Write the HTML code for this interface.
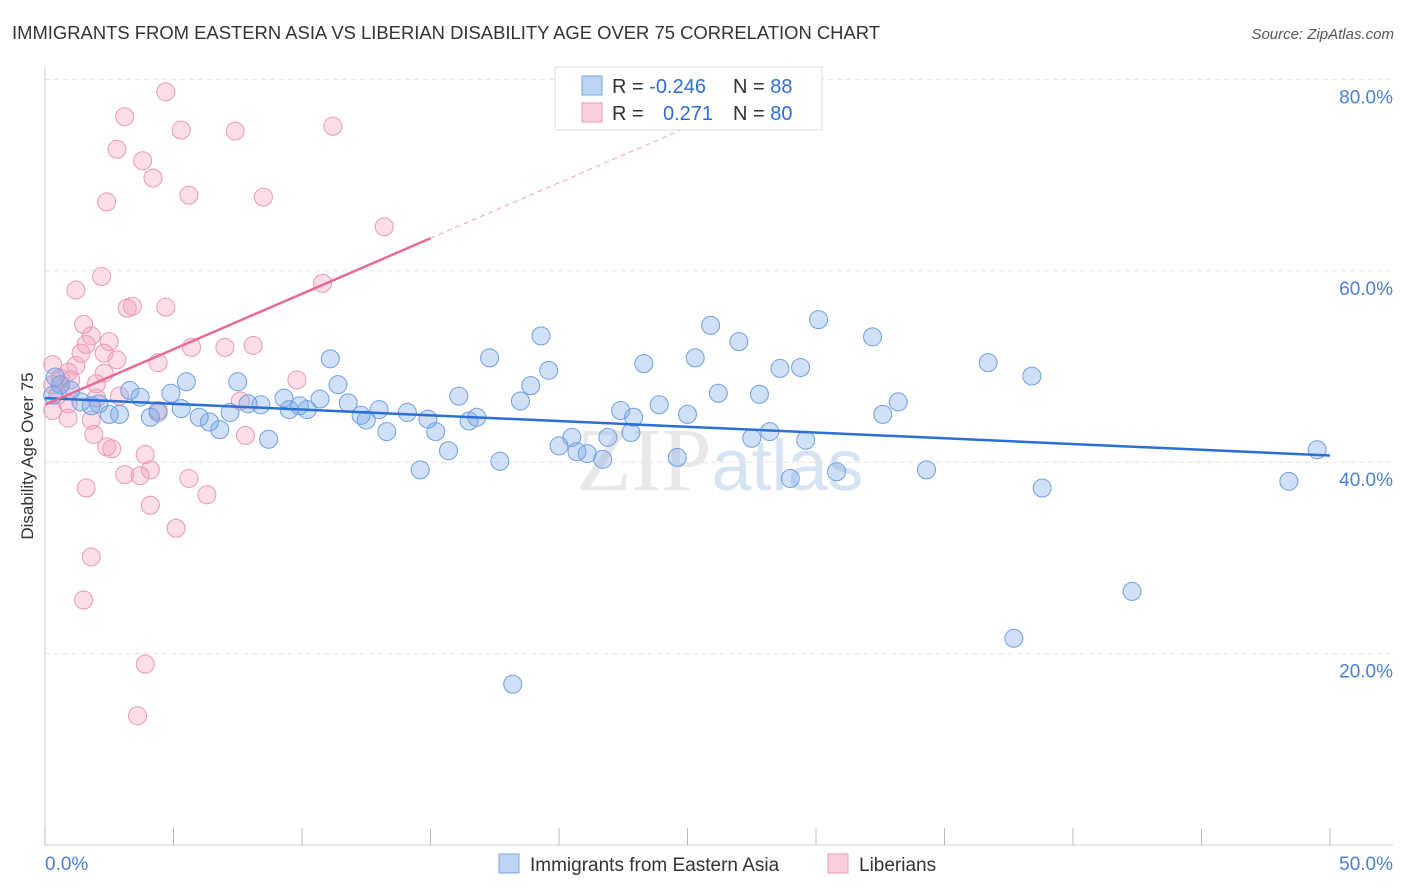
<!DOCTYPE html>
<html><head><meta charset="utf-8"><style>
body{margin:0;background:#fff;font-family:"Liberation Sans",sans-serif;}
</style></head><body>
<svg id="chart" width="1406" height="892" xmlns="http://www.w3.org/2000/svg" style="display:block">
<text x="12" y="39" font-size="18" fill="#333" textLength="868" lengthAdjust="spacingAndGlyphs">IMMIGRANTS FROM EASTERN ASIA VS LIBERIAN DISABILITY AGE OVER 75 CORRELATION CHART</text>
<text x="1394" y="39" font-size="15" fill="#555" text-anchor="end" font-style="italic">Source: ZipAtlas.com</text>
<text x="720" y="490" font-size="90" fill="#e8e8e8" text-anchor="middle" font-family="Liberation Serif">ZIP<tspan fill="#d6e3f3" font-family="Liberation Sans" font-size="72">atlas</tspan></text>
<g id="grid"></g>
<g id="pts"></g>
<g id="lines"></g>
<text transform="translate(33,456) rotate(-90)" font-size="17" fill="#333" text-anchor="middle">Disability Age Over 75</text>
<g>
<rect x="555" y="67" width="267" height="63" fill="#fff" stroke="#ddd"/>
<rect x="582" y="76" width="20" height="19" fill="#bcd3f3" stroke="#7aa6e6"/>
<rect x="582" y="103" width="20" height="19" fill="#fbd0dd" stroke="#ee9ab5"/>
<text x="612" y="93" font-size="20" fill="#333">R = <tspan fill="#2e6fd6">-0.246</tspan><tspan x="733">N = </tspan><tspan fill="#2e6fd6">88</tspan></text>
<text x="612" y="120" font-size="20" fill="#333">R = <tspan x="663" fill="#2e6fd6">0.271</tspan><tspan x="733">N = </tspan><tspan fill="#2e6fd6">80</tspan></text>
</g>
<g>
<rect x="499" y="854" width="20" height="19" fill="#bcd3f3" stroke="#7aa6e6"/>
<text x="530" y="871" font-size="19" fill="#333">Immigrants from Eastern Asia</text>
<rect x="828" y="854" width="20" height="19" fill="#fbd0dd" stroke="#ee9ab5"/>
<text x="859" y="871" font-size="19" fill="#333">Liberians</text>
</g>
<text x="45" y="870" font-size="19" fill="#4a7fd8">0.0%</text>
<text x="1393" y="870" font-size="19" fill="#4a7fd8" text-anchor="end">50.0%</text>
</svg>
<script>
const blueX=[49.5,48.4,42.3,37.7,38.8,38.4,36.7,34.3,33.2,32.6,32.2,30.8,30.1,29.6,29.4,29.0,28.6,28.2,27.8,27.5,27.0,26.2,25.9,25.3,25.0,24.6,23.9,23.3,22.9,22.8,22.4,21.9,21.7,21.1,20.7,20.5,20.0,19.6,19.3,18.9,18.5,18.2,17.7,17.3,16.8,16.5,16.1,15.7,15.2,14.9,14.6,14.1,13.3,13.0,12.5,12.3,11.8,11.4,11.1,10.7,10.2,9.9,9.5,9.3,8.7,8.4,7.9,7.5,7.2,6.8,6.4,6.0,5.5,5.3,4.9,4.4,4.1,3.7,3.3,2.9,2.5,2.1,1.8,1.4,1.0,0.6,0.4,0.3];
const blueY=[41.3,38.0,26.5,21.6,37.3,49.0,50.4,39.2,46.3,45.0,53.1,39.0,54.9,42.3,49.9,38.3,49.8,43.2,47.1,42.5,52.6,47.2,54.3,50.9,45.0,40.5,46.0,50.3,44.7,43.1,45.4,42.6,40.3,40.9,41.1,42.6,41.7,49.6,53.2,48.0,46.4,16.8,40.1,50.9,44.7,44.3,46.9,41.2,43.2,44.5,39.2,45.2,43.2,45.5,44.4,44.9,46.2,48.1,50.8,46.6,45.5,45.9,45.5,46.7,42.4,46.0,46.1,48.4,45.2,43.4,44.2,44.7,48.4,45.6,47.2,45.2,44.7,46.8,47.5,45.0,45.0,46.1,45.9,46.3,47.5,48.1,48.9,47.0];
const pinkX=[4.7,3.1,5.3,7.4,11.2,2.8,3.8,4.2,2.4,5.6,8.5,13.2,2.2,10.8,1.2,3.2,3.4,4.7,1.5,1.8,2.5,1.6,5.7,7.0,8.1,1.4,2.3,2.8,4.4,1.2,0.3,0.9,2.3,0.6,2.0,1.0,9.8,0.3,0.5,2.9,2.0,7.6,0.9,4.4,0.3,1.8,0.9,1.9,7.8,2.4,2.6,3.9,4.1,3.1,3.7,5.6,1.6,6.3,4.1,5.1,1.8,1.5,3.9,3.6];
const pinkY=[78.7,76.1,74.7,74.6,75.1,72.7,71.5,69.7,67.2,67.9,67.7,64.6,59.4,58.7,58.0,56.1,56.3,56.2,54.4,53.2,52.6,52.3,52.0,52.0,52.2,51.4,51.4,50.7,50.4,50.1,50.2,49.4,49.3,48.8,48.2,48.6,48.6,48.1,47.0,46.9,46.7,46.4,46.1,45.4,45.4,44.4,44.6,42.9,42.8,41.6,41.4,40.8,39.2,38.7,38.6,38.3,37.3,36.6,35.5,33.1,30.1,25.6,18.9,13.5];
const yTicks=[20,40,60,80];
const xTicks=[0,5,10,15,20,25,30,35,40,45,50];
const blueTrend=[46.7,40.7];
const pinkTrend=[46.0,63.4,15];
const NS='http://www.w3.org/2000/svg';
const X=v=>45+v*25.7, Y=v=>845-v*9.57;
function mk(t,a,p){const e=document.createElementNS(NS,t);for(const k in a)e.setAttribute(k,a[k]);p.appendChild(e);return e;}
const grid=document.getElementById('grid');
mk('line',{x1:45,y1:845,x2:1393,y2:845,stroke:'#ccc'},grid);
mk('line',{x1:45,y1:67,x2:45,y2:845,stroke:'#ccc'},grid);
yTicks.forEach(v=>{
 const l=mk('line',{x1:45,y1:Y(v),x2:1393,y2:Y(v),stroke:'#e2e2e2','stroke-dasharray':'5,4'},grid);
 
 
 const t=mk('text',{x:1393,y:Y(v)+24,'font-size':19,fill:'#4a7fd8','text-anchor':'end'},grid);
 t.textContent=v.toFixed(1)+'%';
 
 
});
xTicks.forEach(v=>{
 const l=mk('line',{x1:X(v),y1:828,x2:X(v),y2:845,stroke:'#bbb'},grid);
 
 
});
const pts=document.getElementById('pts');
pinkX.forEach((v,i)=>{
 const c=mk('circle',{cx:X(v),cy:Y(pinkY[i]),r:9,fill:'rgba(244,160,188,0.35)',stroke:'#ec98b4','stroke-width':1},pts);
 
 
});
blueX.forEach((v,i)=>{
 const c=mk('circle',{cx:X(v),cy:Y(blueY[i]),r:9,fill:'rgba(120,165,230,0.35)',stroke:'#6f9fe2','stroke-width':1},pts);
 
 
});
const lines=document.getElementById('lines');
const bl=mk('line',{x1:X(0),y1:Y(blueTrend[0]),x2:X(50),y2:Y(blueTrend[1]),stroke:'#2a6fd6','stroke-width':2.5},lines);


const slope=(pinkTrend[1]-pinkTrend[0])/pinkTrend[2];
const pl=mk('line',{x1:X(0),y1:Y(pinkTrend[0]),x2:X(pinkTrend[2]),y2:Y(pinkTrend[1]),stroke:'#e86a95','stroke-width':2.5},lines);


const xe=26;
const pd=mk('line',{x1:X(pinkTrend[2]),y1:Y(pinkTrend[1]),x2:X(xe),y2:Y(pinkTrend[0]+slope*xe),stroke:'#f0a0bb','stroke-width':1,'stroke-dasharray':'5,4'},lines);


</script>
</body></html>
